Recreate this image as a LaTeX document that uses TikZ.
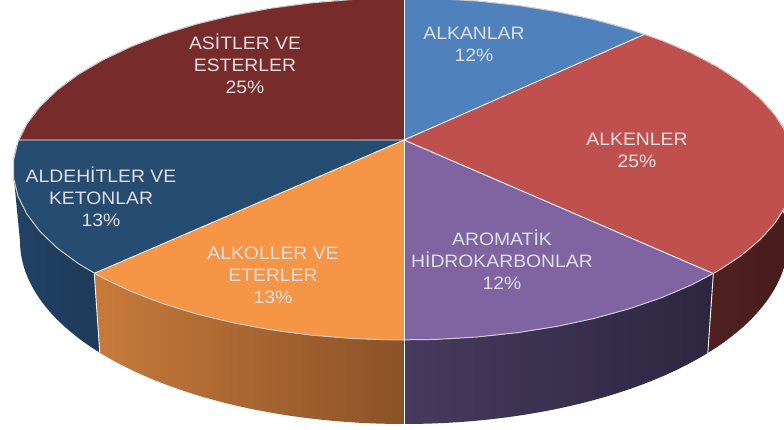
\documentclass[tikz,border=0pt]{standalone}
\usepackage{fontspec}
\newfontfamily\lblfont{Liberation Sans}[FakeStretch=1.075]
\definecolor{cAsit}{RGB}{119,43,43}
\definecolor{cAlkan}{RGB}{79,129,189}
\definecolor{cAlken}{RGB}{192,80,77}
\definecolor{cArom}{RGB}{128,100,162}
\definecolor{cAlkol}{RGB}{246,149,70}
\definecolor{cAlde}{RGB}{39,76,114}
\definecolor{sRedL}{RGB}{80,32,32}
\definecolor{sRedR}{RGB}{72,28,28}
\definecolor{sPurL}{RGB}{70,58,94}
\definecolor{sPurR}{RGB}{46,38,64}
\definecolor{sOrL}{RGB}{200,122,58}
\definecolor{sOrR}{RGB}{138,82,40}
\definecolor{sBlL}{RGB}{34,66,100}
\definecolor{sBlR}{RGB}{30,58,90}
\definecolor{lblgray}{RGB}{224,224,224}
\definecolor{rimgray}{RGB}{205,205,205}
% arcs that continue the current path with a line to their first point
\newcommand\ltoparc[2]{-- plot[domain=#1:#2,samples=60,variable=\t]({404+391*cos(\t)},{169-171*sin(\t)})}
\newcommand\lbotarc[2]{-- plot[domain=#1:#2,samples=60,variable=\t]({404+384*cos(\t)},{241-183*sin(\t)})}
\newcommand\firstln{\rule{0pt}{17pt}}
\newcommand\lastln{\rule[-5pt]{0pt}{5pt}}
\begin{document}
\begin{tikzpicture}[x=1pt,y=-1pt,
  lbl/.style={text=lblgray, align=center, inner sep=0pt, anchor=center,
    font=\lblfont\fontsize{18}{22}\selectfont},
  sep/.style={draw=white, line width=0.9pt},
  rim/.style={draw=rimgray, line width=1pt}]
\useasboundingbox (0,0) rectangle (784,430);
\clip (0,0) rectangle (784,430);
% apex and boundary points
\coordinate (A) at (404,140);
\coordinate (T90) at ({404+391*cos(90)},{169-171*sin(90)});
\coordinate (T52) at ({404+391*cos(52)},{169-171*sin(52)});
\coordinate (T15) at ({404+391*cos(15)},{169-171*sin(15)});
\coordinate (Tm37) at ({404+391*cos(-37.7)},{169-171*sin(-37.7)});
\coordinate (Tm90) at ({404+391*cos(-90)},{169-171*sin(-90)});
\coordinate (Tm142) at ({404+391*cos(-142.4)},{169-171*sin(-142.4)});
\coordinate (T170) at ({404+391*cos(170.24)},{169-171*sin(170.24)});
\coordinate (T0) at ({404+391},169);
\coordinate (Bm37) at ({404+384*cos(-37.7)},{241-183*sin(-37.7)});
\coordinate (Bm90) at ({404+384*cos(-90)},{241-183*sin(-90)});
\coordinate (Bm142) at ({404+384*cos(-142.4)},{241-183*sin(-142.4)});
% side panels
\shade[left color=sRedL, right color=sRedR] (T15) \ltoparc{15}{-37.7} \lbotarc{-37.7}{15} -- cycle;
\shade[left color=sPurL, right color=sPurR] (Tm37) \ltoparc{-37.7}{-90} \lbotarc{-90}{-37.7} -- cycle;
\shade[left color=sOrL, right color=sOrR] (Tm90) \ltoparc{-90}{-142.4} \lbotarc{-142.4}{-90} -- cycle;
\shade[left color=sBlL, right color=sBlR] (Tm142) \ltoparc{-142.4}{-180} \lbotarc{-180}{-142.4} -- cycle;
\draw[sep] (Tm37) -- (Bm37);
\draw[sep] (Tm90) -- (Bm90);
\draw[sep] (Tm142) -- (Bm142);
% top face slices
\fill[cAlkan] (A) \ltoparc{90}{52} -- cycle;
\fill[cAlken] (A) \ltoparc{52}{-37.7} -- cycle;
\fill[cArom] (A) \ltoparc{-37.7}{-90} -- cycle;
\fill[cAlkol] (A) \ltoparc{-90}{-142.4} -- cycle;
\fill[cAlde] (A) \ltoparc{-142.4}{-189.76} -- cycle;
\fill[cAsit] (A) \ltoparc{170.24}{90} -- cycle;
\draw[sep] (A) -- (T90);
\draw[sep] (A) -- (T52);
\draw[sep] (A) -- (Tm37);
\draw[sep] (A) -- (Tm90);
\draw[sep] (A) -- (Tm142);
\draw[sep] (A) -- (T170);
\draw[rim] (T0) \ltoparc{0}{360} -- cycle;
% labels
\node[lbl] (asit) at (245,65.4) {\firstln AS\.ITLER VE\\ESTERLER\\25\%\lastln};
\node[lbl] (alkan) at (474,44.4) {\firstln ALKANLAR\\12\%\lastln};
\node[lbl] (alken) at (637,150.4) {\firstln ALKENLER\\25\%\lastln};
\node[lbl] (alde) at (101,198.4) {\firstln ALDEH\.ITLER VE\\KETONLAR\\13\%\lastln};
\node[lbl] (alkol) at (273,275.4) {\firstln ALKOLLER VE\\ETERLER\\13\%\lastln};
\node[lbl] (arom) at (502,261.4) {\firstln AROMAT\.IK\\H\.IDROKARBONLAR\\12\%\lastln};
\end{tikzpicture}
\end{document}
